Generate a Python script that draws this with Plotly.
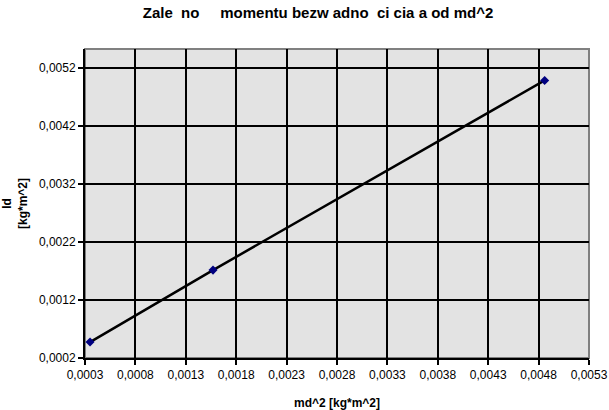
import plotly.graph_objects as go

# dane
md2 = [0.00035, 0.00157, 0.00486]
Id = [0.000475, 0.001715, 0.004985]

x_ticks = [0.0003, 0.0008, 0.0013, 0.0018, 0.0023, 0.0028, 0.0033, 0.0038, 0.0043, 0.0048, 0.0053]
y_ticks = [0.0002, 0.0012, 0.0022, 0.0032, 0.0042, 0.0052]

font = "Liberation Sans, Arial, sans-serif"

W, H = 609, 410

fig = go.Figure()

fig.add_trace(
    go.Scatter(
        x=md2,
        y=Id,
        mode="lines+markers",
        line=dict(color="black", width=2.5),
        marker=dict(symbol="diamond", size=7, color="#000080", line=dict(width=0)),
        showlegend=False,
        cliponaxis=False,
    )
)

# ramka obszaru wykresu
fig.add_shape(
    type="rect", xref="paper", yref="paper", x0=0, y0=0, x1=1, y1=1,
    line=dict(color="#808080", width=2), layer="below",
)

axis_common = dict(
    showgrid=True,
    gridcolor="black",
    gridwidth=2,
    zeroline=False,
    showline=True,
    linecolor="black",
    linewidth=2,
    ticks="outside",
    ticklen=5,
    tickwidth=2,
    tickcolor="black",
    tickformat=".4f",
    tickfont=dict(family=font, size=12, color="black"),
    ticklabeloverflow="allow",
    automargin=False,
)

fig.update_layout(
    width=W,
    height=H,
    margin=dict(l=85, r=20, t=49, b=52),
    paper_bgcolor="white",
    plot_bgcolor="#E3E3E3",
    separators=", ",
    title=dict(
        text="<b>Zale  no     momentu bezw adno  ci cia a od md^2</b>",
        font=dict(family=font, size=15, color="black"),
        x=318 / W, xanchor="center", y=1 - 13 / H, yanchor="middle",
        automargin=False,
    ),
    xaxis=dict(
        axis_common,
        range=[0.0003, 0.0053],
        tickvals=x_ticks,
        title=dict(text="<b>md^2 [kg*m^2]</b>", font=dict(family=font, size=12, color="black"), standoff=19),
    ),
    yaxis=dict(
        axis_common,
        range=[0.0002, 0.005527],
        tickvals=y_ticks,
        title=dict(text="<b>Id<br>[kg*m^2]</b>", font=dict(family=font, size=12, color="black"), standoff=13),
    ),
)

# bez domyslnego marginesu strony i bez paska narzedzi
fig.write_html(
    "out.html",
    config={"displayModeBar": False},
    post_script="document.body.style.margin='0';document.body.style.overflow='hidden';",
)
